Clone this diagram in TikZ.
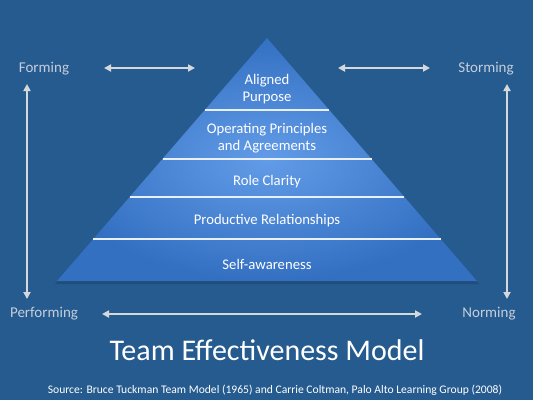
\documentclass[tikz,border=0pt]{standalone}
\usepackage{fontspec}
\setmainfont{Carlito}
\usetikzlibrary{positioning,arrows.meta}

\definecolor{bgblue}{RGB}{38,91,143}
\definecolor{pyrout}{RGB}{52,112,194}
\definecolor{pyrin}{RGB}{98,156,232}
\definecolor{arrowgray}{RGB}{214,216,220}
\definecolor{stagegray}{RGB}{196,206,220}

\begin{document}
\begin{tikzpicture}[
x=1pt,y=-1pt,
>={Triangle[length=7pt,width=7pt]},
stage/.style={
text=stagegray,
font=\fontsize{15}{17}\selectfont
},
layer/.style={
text=white,
align=center,
font=\fontsize{14.7}{17}\selectfont
},
divider/.style={
draw=white!85!pyrin,
line width=1.3pt
},
arrow/.style={<->,draw=arrowgray,line width=1.8pt}
]

%---------------- Background ----------------%

\fill[bgblue] (0,0) rectangle (533,400);
\useasboundingbox (0,0) rectangle (533,400);

%---------------- Pyramid ----------------%

\coordinate (apex) at (267,38);
\coordinate (bl) at (57,281);
\coordinate (br) at (477,281);

\fill[black,opacity=0.15] (267,41) -- (55,284) -- (479,284) -- cycle;
\shade[inner color=pyrin,outer color=pyrout] (apex) -- (bl) -- (br) -- cycle;

\coordinate (d1l) at (204.8,110); \coordinate (d1r) at (329.2,110);
\coordinate (d2l) at (162.5,159); \coordinate (d2r) at (371.5,159);
\coordinate (d3l) at (129.6,197); \coordinate (d3r) at (404.4,197);
\coordinate (d4l) at (93.3,239); \coordinate (d4r) at (440.7,239);

\draw[divider] (d1l)--(d1r);
\draw[divider] (d2l)--(d2r);
\draw[divider] (d3l)--(d3r);
\draw[divider] (d4l)--(d4r);

\node[layer] (purpose) at (267,89) {Aligned\\Purpose};
\node[layer] (principles) at (267,138) {Operating Principles\\and Agreements};
\node[layer] (role) at (267,182) {Role Clarity};
\node[layer] (relations) at (267,221) {Productive Relationships};
\node[layer] (self) at (267,264) {Self-awareness};

%---------------- Stages ----------------%

\node[stage] (forming) at (44,69) {Forming};
\node[stage] (storming) at (486,69) {Storming};
\node[stage] (performing) at (44,314) {Performing};
\node[stage] (norming) at (489,314) {Norming};

\coordinate (tl1) at (104,68); \coordinate (tl2) at (195,68);
\coordinate (tr1) at (338,68); \coordinate (tr2) at (430,68);
\coordinate (b1) at (102,314); \coordinate (b2) at (422,314);
\coordinate (l1) at (27,84); \coordinate (l2) at (27,299);
\coordinate (r1) at (507,84); \coordinate (r2) at (507,299);

\draw[arrow] (tl1)--(tl2);
\draw[arrow] (tr1)--(tr2);
\draw[arrow] (b1)--(b2);
\draw[arrow] (l1)--(l2);
\draw[arrow] (r1)--(r2);

%---------------- Title ----------------%

\node[text=white,font=\fontsize{30}{34}\selectfont] (title) at (267,350)
{Team Effectiveness Model};

\node[text=white,font=\fontsize{11.6}{13}\selectfont] (source) at (275,390)
{Source: Bruce Tuckman Team Model (1965) and Carrie Coltman, Palo Alto Learning Group (2008)};

\end{tikzpicture}
\end{document}
